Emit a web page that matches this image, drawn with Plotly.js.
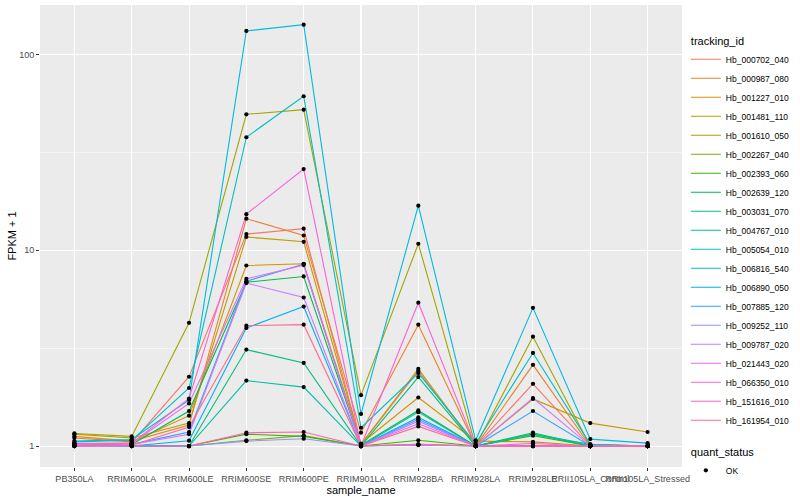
<!DOCTYPE html>
<html><head><meta charset="utf-8">
<script src="https://cdn.plot.ly/plotly-3.0.1.min.js"></script>
<style>body{margin:0;background:#fff}</style></head>
<body><div id="chart" style="width:800px;height:500px"></div>
<script>
// ---- data (FPKM + 1) ----
const categories = ["PB350LA","RRIM600LA","RRIM600LE","RRIM600SE","RRIM600PE","RRIM901LA","RRIM928BA","RRIM928LA","RRIM928LE","RRII105LA_Control","RRII105LA_Stressed"];
const trackingIds = ["Hb_000702_040","Hb_000987_080","Hb_001227_010","Hb_001481_110","Hb_001610_050","Hb_002267_040","Hb_002393_060","Hb_002639_120","Hb_003031_070","Hb_004767_010","Hb_005054_010","Hb_006816_540","Hb_006890_050","Hb_007885_120","Hb_009252_110","Hb_009787_020","Hb_021443_020","Hb_066350_010","Hb_151616_010","Hb_161954_010"];
const seriesColors = ["#F8766D","#EA8331","#D89000","#C09B00","#A3A500","#7CAE00","#39B600","#00BB4E","#00BF7D","#00C1A3","#00BFC4","#00BAE0","#00B0F6","#35A2FF","#9590FF","#C77CFF","#E76BF3","#FA62DB","#FF62BC","#FF6C91"];

const hb_000702_040 = [1.03, 1.04, 2.26, 12.1, 12.9, 1.02, 2.42, 1.00, 2.08, 1.00, 1.00];
const hb_000987_080 = [1.12, 1.06, 1.28, 14.5, 11.9, 1.17, 4.17, 1.00, 2.60, 1.00, 1.00];
const hb_001227_010 = [1.10, 1.05, 1.43, 8.36, 8.53, 1.03, 1.77, 1.06, 1.05, 1.00, 1.00];
const hb_001481_110 = [1.15, 1.10, 1.31, 11.7, 11.05, 1.02, 2.48, 1.00, 1.74, 1.31, 1.18];
const hb_001610_050 = [1.16, 1.12, 4.26, 49.5, 52.3, 1.82, 10.8, 1.00, 3.62, 1.00, 1.00];
const hb_002267_040 = [1.00, 1.00, 1.00, 1.07, 1.13, 1.00, 1.02, 1.00, 1.00, 1.00, 1.00];
const hb_002393_060 = [1.00, 1.01, 1.00, 1.15, 1.12, 1.00, 1.07, 1.00, 1.13, 1.00, 1.00];
const hb_002639_120 = [1.02, 1.02, 1.51, 6.87, 7.35, 1.01, 1.52, 1.00, 1.17, 1.00, 1.00];
const hb_003031_070 = [1.01, 1.00, 1.00, 3.11, 2.66, 1.00, 2.25, 1.00, 1.15, 1.00, 1.00];
const hb_004767_010 = [1.01, 1.00, 1.00, 2.16, 2.00, 1.00, 1.49, 1.00, 1.15, 1.02, 1.00];
const hb_005054_010 = [1.05, 1.07, 1.98, 37.8, 61.2, 1.24, 2.36, 1.03, 2.99, 1.02, 1.00];
const hb_006816_540 = [1.06, 1.08, 1.72, 132, 142, 1.46, 16.9, 1.07, 5.08, 1.085, 1.035];
const hb_006890_050 = [1.02, 1.00, 1.065, 4.01, 5.16, 1.00, 1.40, 1.00, 1.00, 1.00, 1.00];
const hb_007885_120 = [1.01, 1.02, 1.18, 6.95, 8.50, 1.00, 1.37, 1.00, 1.51, 1.00, 1.00];
const hb_009252_110 = [1.00, 1.00, 1.00, 1.06, 1.09, 1.00, 1.01, 1.00, 1.00, 1.00, 1.00];
const hb_009787_020 = [1.00, 1.02, 1.15, 6.80, 5.74, 1.00, 1.34, 1.00, 1.76, 1.00, 1.00];
const hb_021443_020 = [1.02, 1.03, 1.65, 7.15, 8.40, 1.00, 1.30, 1.00, 1.03, 1.00, 1.00];
const hb_066350_010 = [1.03, 1.03, 1.75, 15.3, 26.0, 1.00, 5.40, 1.00, 1.00, 1.00, 1.00];
const hb_151616_010 = [1.00, 1.00, 1.00, 1.17, 1.18, 1.00, 1.02, 1.00, 1.00, 1.00, 1.00];
const hb_161954_010 = [1.00, 1.01, 1.25, 4.12, 4.17, 1.00, 1.26, 1.00, 1.00, 1.00, 1.00];

const seriesValues = [hb_000702_040, hb_000987_080, hb_001227_010, hb_001481_110, hb_001610_050,
  hb_002267_040, hb_002393_060, hb_002639_120, hb_003031_070, hb_004767_010, hb_005054_010,
  hb_006816_540, hb_006890_050, hb_007885_120, hb_009252_110, hb_009787_020, hb_021443_020,
  hb_066350_010, hb_151616_010, hb_161954_010];

const yTickVals = [1, 10, 100];
const yTickText = ["1", "10", "100"];
const yMinorVals = [Math.sqrt(10), Math.sqrt(1000)];

// ---- traces ----
const traces = [];
trackingIds.forEach((id, i) => {
  traces.push({
    type: "scatter", mode: "lines", name: id,
    x: categories, y: seriesValues[i],
    line: {color: seriesColors[i], width: 1.1},
    legendgroup: "tracking_id",
    legendgrouptitle: i === 0 ? {text: "tracking_id", font: {size: 11, color: "#000"}} : undefined,
    hoverinfo: "skip"
  });
});
const px = [], py = [];
seriesValues.forEach(vals => vals.forEach((v, j) => { px.push(categories[j]); py.push(v); }));
traces.push({
  type: "scatter", mode: "markers", name: "OK",
  x: px, y: py,
  marker: {color: "#000", size: 4.2, symbol: "circle"},
  legendgroup: "quant_status",
  legendgrouptitle: {text: "quant_status", font: {size: 11, color: "#000"}},
  hoverinfo: "skip"
});

const layout = {
  width: 800, height: 500,
  margin: {l: 40, r: 112, t: 5, b: 33},
  paper_bgcolor: "#FFFFFF", plot_bgcolor: "#EBEBEB",
  font: {family: "Liberation Sans, Arial, sans-serif", size: 9, color: "#4D4D4D"},
  showlegend: true,
  legend: {
    x: 1.006, xanchor: "left", y: 0.955, yanchor: "top",
    font: {size: 8.5, color: "#000"}, tracegroupgap: 12,
    itemwidth: 30, bgcolor: "rgba(0,0,0,0)", traceorder: "grouped"
  },
  xaxis: {
    type: "category", range: [-0.6, 10.6], tickangle: 0,
    showgrid: true, gridcolor: "#FFFFFF", gridwidth: 1.07,
    ticks: "outside", ticklen: 3, tickcolor: "#333333", tickwidth: 1,
    tickfont: {size: 9, color: "#4D4D4D"},
    showline: false, zeroline: false, fixedrange: true,
    title: {text: "sample_name", font: {size: 11, color: "#000"}, standoff: 0}
  },
  yaxis: {
    type: "log", range: [-0.107, 2.253],
    tickmode: "array", tickvals: yTickVals, ticktext: yTickText,
    showgrid: true, gridcolor: "#FFFFFF", gridwidth: 1.07,
    minor: {tickmode: "array", tickvals: yMinorVals, showgrid: true, gridcolor: "#FFFFFF", gridwidth: 0.53, ticks: ""},
    ticks: "outside", ticklen: 3, tickcolor: "#333333", tickwidth: 1,
    tickfont: {size: 9, color: "#4D4D4D"},
    showline: false, zeroline: false, fixedrange: true,
    title: {text: "FPKM + 1", font: {size: 11, color: "#000"}, standoff: 0}
  }
};
Plotly.newPlot("chart", traces, layout, {displayModeBar: false, staticPlot: true});
</script></body></html>
